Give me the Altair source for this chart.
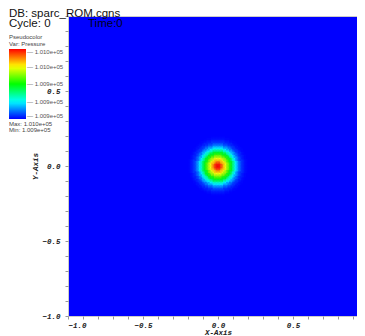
import altair as alt
import numpy as np
import pandas as pd

# Radial pressure profile (step 0.01 in radius)
profile_step = 0.01
pressure_profile = [100990.0, 100988.2, 100983.7, 100978.3, 100972.0, 100966.6,
                    100960.3, 100954.9, 100948.6, 100942.3, 100935.1, 100927.9,
                    100921.0, 100915.5, 100910.8, 100907.2, 100904.5, 100902.7,
                    100901.4, 100900.5, 100900.0]
p_min = 100900.0
p_max = 100990.0
legend_values = [100900.0, 100922.5, 100945.0, 100967.5, 100990.0]
x_ticks = [round(v, 1) for v in np.arange(-1.0, 0.95, 0.1)]
y_ticks = [round(v, 1) for v in np.arange(-1.0, 1.05, 0.1)]
colors = ["#0000ff", "#00ffff", "#00ff00", "#ffff00", "#ff0000"]

title_db = "DB: sparc_ROM.cgns"
title_cycle = "Cycle: 0"
title_time = "Time:0"
max_text = "Max: 1.010e+05"
min_text = "Min: 1.009e+05"

# grid of cells around the blob
coords = np.round(np.arange(-0.22, 0.2201, profile_step), 3)
rows = []
for xc in coords:
    for yc in coords:
        idx = int(round(np.hypot(xc, yc) / profile_step))
        if idx < len(pressure_profile) - 1:
            rows.append({"x": xc - 0.006, "x2": xc + 0.006,
                         "y": yc - 0.006, "y2": yc + 0.006,
                         "p": pressure_profile[idx]})
df = pd.DataFrame(rows)

color_scale = alt.Scale(domain=[p_min, p_max], range=colors, interpolate="rgb")
xscale = alt.Scale(domain=[-1.0, 0.9267], nice=False, zero=False)
yscale = alt.Scale(domain=[-1.0, 1.0], nice=False, zero=False)

label_expr_x = "abs(datum.value*2 - round(datum.value*2)) < 0.001 ? format(datum.value, '.1f') : ''"
label_expr_y = "(abs(datum.value*2 - round(datum.value*2)) < 0.001 && datum.value < 0.95) ? format(datum.value, '.1f') : ''"

heat = alt.Chart(df).mark_rect(strokeWidth=0).encode(
    x=alt.X("x:Q", scale=xscale, axis=alt.Axis(
        title="X-Axis", values=x_ticks, labelExpr=label_expr_x,
        grid=False, domain=False, tickSize=3, tickColor="#999999",
        labelPadding=2, titleBaseline="top", titleY=12, titleX=150)),
    x2="x2:Q",
    y=alt.Y("y:Q", scale=yscale, axis=alt.Axis(
        title="Y-Axis", values=y_ticks, labelExpr=label_expr_y,
        grid=False, domain=False, tickSize=3, tickColor="#999999",
        labelPadding=5, titleX=-33, titleY=150, titleBaseline="middle")),
    y2="y2:Q",
    color=alt.Color("p:Q", scale=color_scale, legend=alt.Legend(
        orient="none", legendX=-59, legendY=18, direction="vertical",
        gradientLength=70, gradientThickness=17, gradientStrokeWidth=0,
        title=["Pseudocolor", "Var: Pressure"], titleFontSize=6,
        titleFont="Liberation Sans", titleFontWeight="normal", titleColor="#444444",
        titleLineHeight=7, titlePadding=2,
        values=legend_values, labelFontSize=6, labelFont="Liberation Sans",
        labelColor="#555555", labelOffset=1,
        labelExpr="'— ' + format(datum.value/100000, '.3f') + 'e+05'")),
)

def txt(s, x, y, size, color="#111111"):
    return alt.Chart(pd.DataFrame({"t": [s]})).mark_text(
        align="left", baseline="alphabetic", font="Liberation Sans",
        fontSize=size, color=color).encode(
        text="t:N", x=alt.value(x), y=alt.value(y))

chart = alt.layer(
    heat,
    txt(title_db, -59, 0.5, 11.5),
    txt(title_cycle, -59, 11, 11.5),
    txt(title_time, 20, 11, 11.5, "#000022"),
    txt(max_text, -59, 110, 6, "#444444"),
    txt(min_text, -59, 116, 6, "#444444"),
).properties(
    width=289, height=300,
    autosize=alt.AutoSizeParams(type="none"),
    padding={"left": 60, "top": 8, "right": 0, "bottom": 20},
).configure_view(
    fill="#0000ff", stroke="#cccccc", strokeWidth=1
).configure_axis(
    labelFont="Liberation Mono", labelFontStyle="italic", labelFontWeight="bold",
    labelFontSize=7.5, labelColor="#222222",
    titleFont="Liberation Mono", titleFontStyle="italic", titleFontWeight="bold",
    titleFontSize=7.5, titleColor="#222222",
)

chart.save("out.html", embed_options={"renderer": "svg", "actions": False})
